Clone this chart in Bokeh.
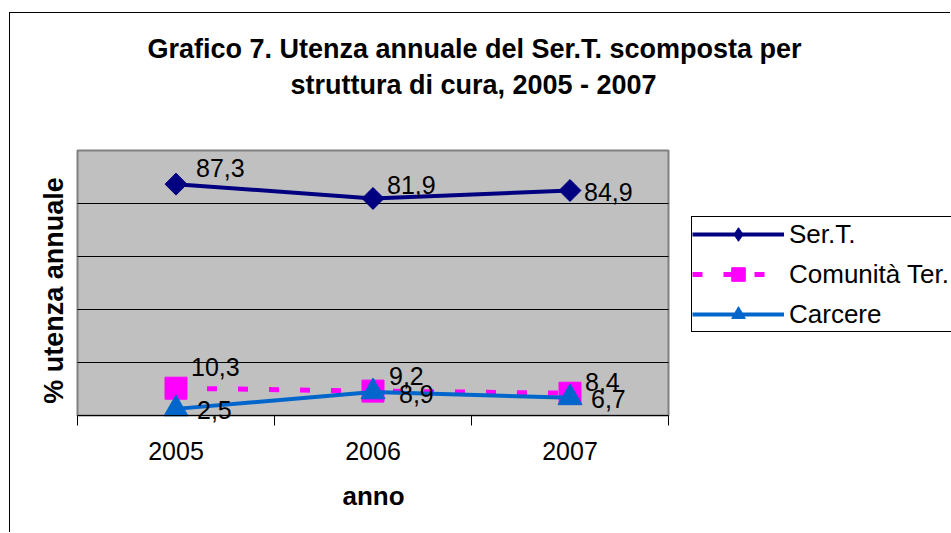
import math
from bokeh.plotting import figure
from bokeh.models import (ColumnDataSource, Range1d, FixedTicker, Legend, LegendItem, Label)
from bokeh.core.properties import value
from bokeh.embed import file_html
from bokeh.resources import INLINE

# ---- data ----
years = ["2005", "2006", "2007"]
sert = [87.3, 81.9, 84.9]
comunita = [10.3, 9.2, 8.4]
carcere = [2.5, 8.9, 6.7]
series_names = ["Ser.T.", "Comunità Ter.", "Carcere"]
title_lines = ["Grafico 7. Utenza annuale del Ser.T. scomposta per",
               "struttura di cura, 2005 - 2007"]
x_title = "anno"
y_title = "% utenza annuale"
y_ticks = [0, 20, 40, 60, 80, 100]

# ---- layout / style (pixels of the page) ----
FONT = "Liberation Sans"
CX0, CY0 = 10, 13          # canvas origin on the page (after CSS margin + border)
CW, CH = 941, 520          # canvas size
PX0, PX1 = 77, 668         # plot area left/right on the page
PY0, PY1 = 150, 415        # plot area top/bottom on the page
colors = ["#000080", "#FF00FF", "#0066CC"]
# label offsets in pixels (dx right, dy down) per series / point
lab_dx = [[20, 14, 14], [15, 16, 15], [21, 26, 21]]
lab_dy = [[-16, -13, 1], [-21, -15, -11], [1, 2, 1]]


def sx(page_x):
    return page_x - CX0


def sy(page_y):
    return CY0 + CH - page_y


n = len(years)
kx = (PX1 - PX0) / n
ky = (PY1 - PY0) / (y_ticks[-1] - y_ticks[0])
x_range = Range1d((CX0 - PX0) / kx, (CX0 + CW - PX0) / kx)
y_range = Range1d(y_ticks[0] - (CY0 + CH - PY1) / ky, y_ticks[-1] + (PY0 - CY0) / ky)

x = [i + 0.5 for i in range(n)]

p = figure(width=CW, height=CH, output_backend="svg", toolbar_location=None,
           x_range=x_range, y_range=y_range,
           min_border_left=0, min_border_right=0, min_border_top=0, min_border_bottom=0)
p.margin = (CY0 - 1, 0, 0, CX0 - 1)
p.styles = {"border-left": "1px solid black", "border-top": "1px solid black"}
p.background_fill_color = "white"
p.border_fill_color = "white"
p.outline_line_color = None
p.title = None
p.yaxis.visible = False
p.xgrid.visible = False
p.ygrid.visible = False

# plot area, gridlines
p.quad(left=[0], right=[n], bottom=[y_ticks[0]], top=[y_ticks[-1]],
       fill_color="#C0C0C0", line_color="#808080", line_width=2)
p.segment(x0=[0] * (len(y_ticks) - 2), x1=[n] * (len(y_ticks) - 2),
          y0=y_ticks[1:-1], y1=y_ticks[1:-1], line_color="black", line_width=1)

xa = p.xaxis[0]
xa.fixed_location = y_ticks[0]
xa.bounds = (0, n)
xa.ticker = FixedTicker(ticks=x, minor_ticks=list(range(n + 1)))
xa.major_label_overrides = {xx: yr for xx, yr in zip(x, years)}
xa.major_tick_line_color = None
xa.major_tick_out = 0
xa.major_tick_in = 0
xa.minor_tick_line_color = "black"
xa.minor_tick_out = 10
xa.minor_tick_in = 0
xa.axis_line_color = "black"
xa.axis_line_width = 1
xa.major_label_standoff = 16
xa.major_label_text_font = FONT
xa.major_label_text_font_size = "25px"
xa.major_label_text_color = "black"

src = ColumnDataSource(dict(x=x, s0=sert, s1=comunita, s2=carcere))

l1 = p.line("x", "s0", source=src, line_color=colors[0], line_width=4)
# narrow diamond used for the legend swatch (hidden under the plot markers)
m1_leg = p.scatter("x", "s0", source=src, marker="diamond", size=21,
                   fill_color=colors[0], line_color=colors[0])
m1 = p.scatter("x", "s0", source=src, marker="square", angle=math.pi / 4, size=15.5,
               fill_color=colors[0], line_color=colors[0])
l2 = p.line("x", "s1", source=src, line_color=colors[1], line_width=5, line_dash="10 21")
m2 = p.scatter("x", "s1", source=src, marker="square", size=22,
               fill_color=colors[1], line_color=colors[1])
l3 = p.line("x", "s2", source=src, line_color=colors[2], line_width=4)
m3 = p.scatter("x", "s2", source=src, marker="triangle", size=24,
               fill_color=colors[2], line_color=colors[2])


def fmt(v):
    return f"{v:.1f}".replace(".", ",")


for vals, dx, dy in zip([sert, comunita, carcere], lab_dx, lab_dy):
    ls = ColumnDataSource(dict(x=x, y=vals, t=[fmt(v) for v in vals], dx=dx, dy=dy))
    p.text("x", "y", text="t", source=ls, x_offset="dx", y_offset="dy",
           text_align="left", text_baseline="middle", text_color="black",
           text_font=value(FONT), text_font_size="25px")

# titles
common = dict(x_units="screen", y_units="screen", text_font=FONT, text_color="black",
              text_font_style="bold", text_baseline="middle", text_align="center")
p.add_layout(Label(x=sx(474), y=sy(48), text=title_lines[0], text_font_size="27px", **common))
p.add_layout(Label(x=sx(473), y=sy(84), text=title_lines[1], text_font_size="27px", **common))
p.add_layout(Label(x=sx(373), y=sy(495), text=x_title, text_font_size="26px", **common))
p.add_layout(Label(x=sx(53), y=sy(290), text=y_title, angle=math.pi / 2,
                   text_font_size="27px", **common))

legend = Legend(items=[LegendItem(label=series_names[0], renderers=[l1, m1_leg]),
                       LegendItem(label=series_names[1], renderers=[l2, m2]),
                       LegendItem(label=series_names[2], renderers=[l3, m3])],
                location=(sx(691), sy(332)), orientation="vertical",
                glyph_width=92, glyph_height=34, spacing=6, padding=0, margin=0,
                label_standoff=5, label_width=220,
                label_text_font=FONT, label_text_font_size="26px",
                label_text_color="black",
                border_line_color="black", border_line_width=1, border_line_alpha=1,
                background_fill_color="white", background_fill_alpha=1)
p.add_layout(legend, "center")

open("out.html", "w").write(file_html(p, INLINE))
